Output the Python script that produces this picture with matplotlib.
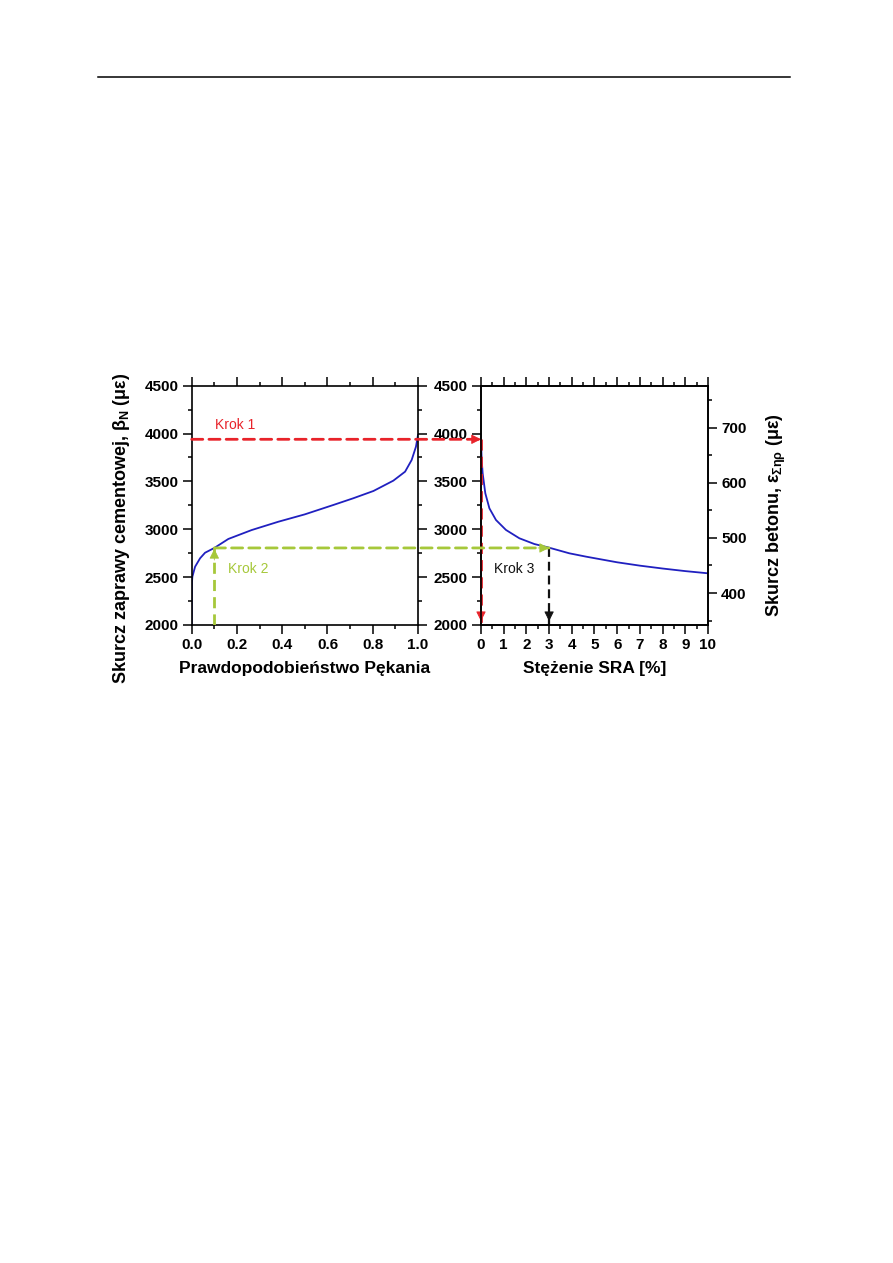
import matplotlib
matplotlib.use("Agg")
import matplotlib.pyplot as plt
from matplotlib.lines import Line2D
from matplotlib.patches import ConnectionPatch
from matplotlib.ticker import MultipleLocator

# ---- data ----
prob = [0.0, 0.001, 0.003, 0.015, 0.037, 0.059, 0.1, 0.162, 0.265, 0.383,
        0.5, 0.626, 0.714, 0.803, 0.891, 0.943, 0.972, 0.991, 1.0]
paste_shrink = [2000, 2440, 2505, 2609, 2697, 2755, 2805, 2899, 2992, 3079,
                3156, 3254, 3324, 3400, 3508, 3602, 3724, 3863, 3985]

sra = [0.0, 0.03, 0.073, 0.19, 0.37, 0.66, 1.1, 1.69, 2.35, 2.94, 3.89,
       4.63, 6.0, 7.0, 8.0, 9.0, 10.0]
sra_shrink = [3933, 3724, 3585, 3376, 3219, 3097, 2993, 2906, 2846, 2812,
              2749, 2714, 2655, 2620, 2590, 2563, 2540]

krok1_y = 3940
krok2_p = 0.1
krok2_y = 2805
krok3_sra = 3.0

left_yticks = [2000, 2500, 3000, 3500, 4000, 4500]
left_xticks = [0.0, 0.2, 0.4, 0.6, 0.8, 1.0]
right_xticks = list(range(0, 11))
concrete_ticks = [400, 500, 600, 700]

RED = "#e8232a"
GREEN = "#a6c83a"
BLUE = "#2020c0"
BLACK = "#111111"

plt.rcParams["font.family"] = ["Liberation Sans", "DejaVu Sans"]
plt.rcParams["mathtext.fontset"] = "custom"
plt.rcParams["mathtext.rm"] = "Liberation Sans:bold"
plt.rcParams["mathtext.it"] = "Liberation Sans:bold"
plt.rcParams["mathtext.bf"] = "Liberation Sans:bold"

W, H = 893, 1263
fig = plt.figure(figsize=(W / 100, H / 100), dpi=100)

# page header rule
fig.add_artist(Line2D([98 / W, 790 / W], [1 - 77 / H, 1 - 77 / H],
                      color="black", lw=1.1))

ax1 = fig.add_axes([191.7 / W, 1 - 625 / H, 226.3 / W, 239.3 / H])
ax2 = fig.add_axes([481 / W, 1 - 625 / H, 227 / W, 239.3 / H])
ax3 = ax2.twinx()

for ax in (ax1, ax2, ax3):
    for s in ax.spines.values():
        s.set_linewidth(1.2)
    ax.tick_params(which="major", length=6.5, width=1.1, direction="out",
                   labelsize=11, pad=3)
    ax.tick_params(which="minor", length=3, width=1.1, direction="out")

# ---- left panel ----
ax1.plot(prob, paste_shrink, color=BLUE, lw=1.3)
ax1.set_xlim(0, 1)
ax1.set_ylim(2000, 4500)
ax1.set_xticks(left_xticks)
ax1.set_yticks(left_yticks)
ax1.xaxis.set_minor_locator(MultipleLocator(0.1))
ax1.yaxis.set_minor_locator(MultipleLocator(250))
ax1.tick_params(top=True, right=True, which="both")
ax1.tick_params(labelright=False)
for lab in ax1.get_xticklabels() + ax1.get_yticklabels():
    lab.set_fontweight("bold")
ax1.set_xlabel("Prawdopodobieństwo Pękania", fontsize=12.5,
               fontweight="bold", labelpad=6)
ax1.set_ylabel(r"Skurcz zaprawy cementowej, $\beta_\mathrm{N}$ (με)",
               fontsize=13, fontweight="bold")
ax1.yaxis.set_label_coords(-0.265, 0.405)

# ---- right panel ----
ax2.plot(sra, sra_shrink, color=BLUE, lw=1.3)
ax2.set_xlim(0, 10)
ax2.set_ylim(2000, 4500)
ax2.set_xticks(right_xticks)
ax2.set_yticks(left_yticks)
ax2.xaxis.set_minor_locator(MultipleLocator(0.5))
ax2.yaxis.set_minor_locator(MultipleLocator(250))
ax2.tick_params(top=True, which="both")
ax2.tick_params(right=False, which="both")
for lab in ax2.get_xticklabels() + ax2.get_yticklabels():
    lab.set_fontweight("bold")
ax2.set_xlabel("Stężenie SRA [%]", fontsize=12.5, fontweight="bold",
               labelpad=6)

ax3.set_ylim(342, 776)
ax3.set_yticks(concrete_ticks)
ax3.yaxis.set_minor_locator(MultipleLocator(50))
for lab in ax3.get_yticklabels():
    lab.set_fontweight("bold")
ax3.set_ylabel(r"Skurcz betonu, $\epsilon_{\Sigma\eta\rho}$ (με)",
               fontsize=13, fontweight="bold")
ax3.yaxis.set_label_coords(1.25, 0.46)

# ---- step guide lines ----
dash = (0, (4, 2.2))
lw = 2.0

def head(ax, xy, dx, dy, color):
    ax.annotate("", xy=xy, xycoords="data", xytext=(dx, dy),
                textcoords="offset points",
                arrowprops=dict(arrowstyle="-|>", color=color, lw=0.6,
                                shrinkA=0, shrinkB=0, mutation_scale=15),
                annotation_clip=False, zorder=6)

# Krok 1 (red)
fig.add_artist(ConnectionPatch(xyA=(0, krok1_y), coordsA=ax1.transData,
                               xyB=(0, krok1_y), coordsB=ax2.transData,
                               color=RED, lw=lw, linestyle=dash,
                               arrowstyle="-", zorder=5))
head(ax2, (0, krok1_y), -8, 0, RED)
ax2.plot([0, 0], [krok1_y, 2000], color=RED, lw=lw, linestyle=dash,
         clip_on=False, zorder=5)
head(ax2, (0, 2040), 0, 8, RED)
ax1.text(0.103, 4090, "Krok 1", color=RED, fontsize=10, va="center")

# Krok 2 (green)
ax1.plot([krok2_p, krok2_p], [2000, krok2_y], color=GREEN, lw=lw,
         linestyle=dash, zorder=5)
head(ax1, (krok2_p, krok2_y - 10), 0, -8, GREEN)
fig.add_artist(ConnectionPatch(xyA=(krok2_p, krok2_y), coordsA=ax1.transData,
                               xyB=(krok3_sra, krok2_y), coordsB=ax2.transData,
                               color=GREEN, lw=lw, linestyle=dash,
                               arrowstyle="-", zorder=5))
head(ax2, (krok3_sra, krok2_y), -8, 0, GREEN)
ax1.text(0.16, 2585, "Krok 2", color=GREEN, fontsize=10, va="center")

# Krok 3 (black)
ax2.plot([krok3_sra, krok3_sra], [krok2_y, 2000], color=BLACK, lw=1.6,
         linestyle=dash, zorder=5)
head(ax2, (krok3_sra, 2040), 0, 8, BLACK)
ax2.text(0.57, 2590, "Krok 3", color=BLACK, fontsize=10, va="center")

fig.savefig("out.png", dpi=100)
